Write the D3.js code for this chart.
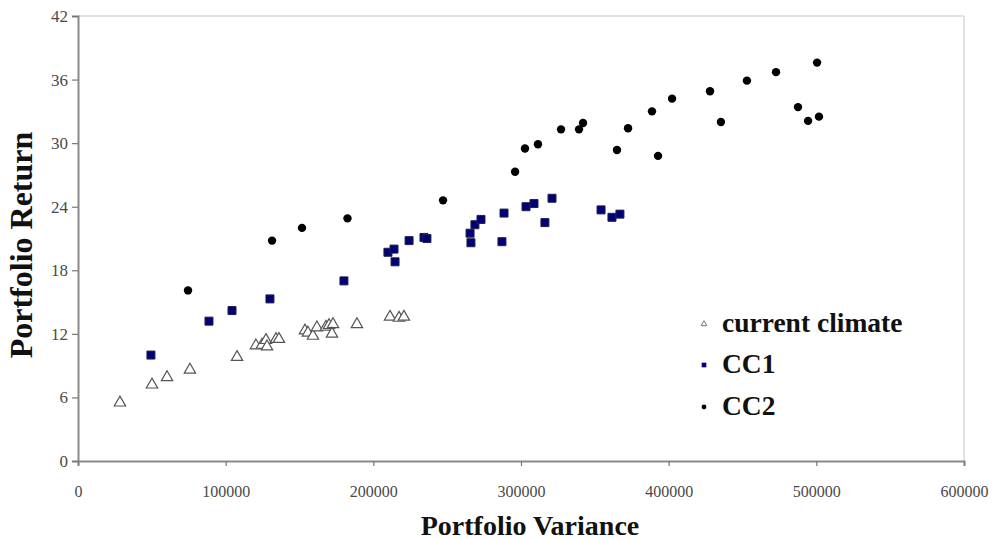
<!DOCTYPE html>
<html><head><meta charset="utf-8">
<script src="https://cdn.jsdelivr.net/npm/d3@7"></script>
<style>body{margin:0;background:#fff}svg{display:block}</style>
</head><body><div id="chart"></div>
<script>
const xTicks = [0,100000,200000,300000,400000,500000,600000];
const yTicks = [0,6,12,18,24,30,36,42];
const seriesNames = ["current climate","CC1","CC2"];
const currentClimate = [[28400,5.5],[50100,7.2],[60300,7.9],[75800,8.6],[107700,9.8],[120500,10.9],[124600,10.95],[127300,11.4],[128000,10.8],[134100,11.5],[136100,11.5],[153700,12.3],[155700,12.1],[159100,11.8],[161800,12.6],[167900,12.65],[170000,12.8],[172700,12.9],[172000,12.0],[188900,12.9],[211300,13.6],[217400,13.5],[220700,13.6]];
const cc1 = [[49400,10.0],[88700,13.2],[104300,14.2],[130000,15.3],[180100,17.0],[209900,19.7],[214000,20.0],[214700,18.8],[224200,20.8],[234300,21.1],[236300,21.0],[265500,21.5],[266100,20.6],[268800,22.3],[272900,22.8],[287100,20.7],[288500,23.4],[303400,24.0],[308800,24.3],[316200,22.5],[321000,24.8],[354200,23.7],[361600,23.0],[367000,23.3]];
const cc2 = [[74500,16.1],[131400,20.8],[151700,22.0],[182500,22.9],[247200,24.6],[296000,27.3],[302700,29.5],[311500,29.9],[327100,31.3],[339300,31.3],[342000,31.9],[365000,29.35],[372500,31.4],[388700,33.0],[392800,28.8],[402300,34.2],[428000,34.9],[435400,32.0],[453000,35.9],[472700,36.7],[487600,33.4],[494400,32.1],[500500,37.6],[501800,32.5]];

const W=998,H=540;
const m={l:78,t:16,r:964,b:461};
const svg=d3.select("#chart").append("svg").attr("width",W).attr("height",H);
const x=d3.scaleLinear().domain([0,600000]).range([m.l,m.r]);
const y=d3.scaleLinear().domain([0,42]).range([m.b,m.t]);
const serif="'Liberation Serif','Times New Roman',serif";

svg.append("line").attr("x1",m.l).attr("x2",m.r).attr("y1",m.t).attr("y2",m.t).attr("stroke","#e2e2e2").attr("stroke-width",2);
svg.append("line").attr("x1",m.r).attr("x2",m.r).attr("y1",m.t).attr("y2",m.b).attr("stroke","#e2e2e2").attr("stroke-width",2);

const yAxis=svg.append("g").attr("transform",`translate(${m.l},0)`)
  .call(d3.axisLeft(y).tickValues(yTicks).tickSize(6).tickPadding(4).tickFormat(d3.format("d")));
const xAxis=svg.append("g").attr("transform",`translate(0,${m.b})`)
  .call(d3.axisBottom(x).tickValues(xTicks).tickSize(5).tickPadding(20).tickFormat(d3.format("d")));
[yAxis,xAxis].forEach(g=>{
  g.select(".domain").attr("stroke","#8a8a8a").attr("stroke-width",2);
  g.selectAll(".tick line").attr("stroke","#777").attr("stroke-width",1.2);
  g.selectAll(".tick text").attr("font-family",serif).attr("font-size",16).attr("fill","#4a4a4a");
});
yAxis.selectAll(".tick text").attr("font-size",17);

const tri=d3.symbol().type(d3.symbolTriangle).size(56);
const sq=d3.symbol().type(d3.symbolSquare).size(64);

svg.append("g").selectAll("path").data(currentClimate).join("path")
  .attr("d",tri).attr("transform",d=>`translate(${x(d[0])},${y(d[1])})`)
  .attr("fill","#fff").attr("stroke","#555").attr("stroke-width",1.2);
svg.append("g").selectAll("path").data(cc1).join("path")
  .attr("d",sq).attr("transform",d=>`translate(${x(d[0])},${y(d[1])})`)
  .attr("fill","#00007a").attr("stroke","#222244").attr("stroke-width",1);
svg.append("g").selectAll("circle").data(cc2).join("circle")
  .attr("cx",d=>x(d[0])).attr("cy",d=>y(d[1])).attr("r",4.2).attr("fill","#000");

const lg=svg.append("g");
const ly=[324,365,407];
lg.append("path").attr("d",d3.symbol().type(d3.symbolTriangle).size(14)).attr("transform",`translate(704,${ly[0]})`).attr("fill","#fff").attr("stroke","#777");
lg.append("path").attr("d",d3.symbol().type(d3.symbolSquare).size(22)).attr("transform",`translate(704,${ly[1]})`).attr("fill","#00007a");
lg.append("circle").attr("cx",704).attr("cy",ly[2]).attr("r",2.4).attr("fill","#000");
lg.selectAll("text").data(seriesNames).join("text")
  .attr("x",722).attr("y",(d,i)=>ly[i]+8).text(d=>d)
  .attr("font-family",serif).attr("font-weight","bold").attr("font-size",27.5).attr("fill","#111");

svg.append("text").attr("x",530).attr("y",535).attr("text-anchor","middle")
  .attr("font-family",serif).attr("font-weight","bold").attr("font-size",28).attr("fill","#111").text("Portfolio Variance");
svg.append("text").attr("transform",`translate(32,245) rotate(-90)`).attr("text-anchor","middle")
  .attr("font-family",serif).attr("font-weight","bold").attr("font-size",32).attr("fill","#111").text("Portfolio Return");
</script></body></html>
